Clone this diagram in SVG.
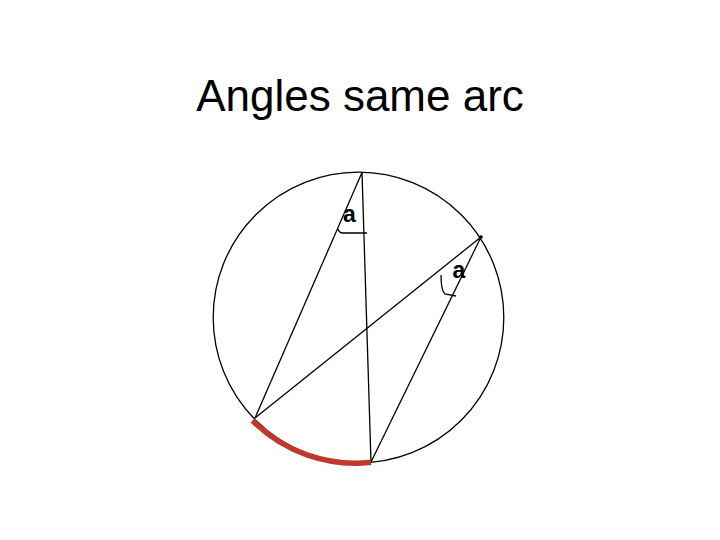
<svg xmlns="http://www.w3.org/2000/svg" width="720" height="540" viewBox="0 0 720 540">
<style>
.ln{stroke:#000;stroke-width:1.3;fill:none}
.lbl{font-family:"Liberation Sans",Arial,sans-serif;font-size:23px;font-weight:bold;fill:#000}
</style>
<rect width="720" height="540" fill="#fff"/>
<text x="360" y="111" text-anchor="middle" font-family="'Liberation Sans',Arial,sans-serif" font-size="44" fill="#000">Angles same arc</text>
<g id="circle">
<circle cx="358.5" cy="317.5" r="145.3" class="ln"/>
</g>
<g id="connectors">
<line x1="362" y1="172.5" x2="255" y2="418" class="ln"/>
<line x1="362" y1="172.5" x2="371" y2="462" class="ln"/>
<line x1="481" y1="237" x2="255" y2="418" class="ln"/>
<line x1="481" y1="237" x2="371" y2="462" class="ln"/>
</g>
<g id="arc">
<path d="M252.5,420.5 A145.3,145.3 0 0 0 371,462.3" stroke="#c0392f" stroke-width="5.5" fill="none"/>
</g>
<g id="angle-top">
<path d="M338,229 Q339,233 343,233 L367,233" class="ln"/>
<text x="343" y="222" class="lbl">a</text>
</g>
<g id="angle-right">
<path d="M441,275 Q441,291 445,294 L456,296" class="ln"/>
<text x="452.5" y="278" class="lbl">a</text>
</g>
<circle cx="481" cy="237" r="1.8" fill="#000"/>
</svg>
